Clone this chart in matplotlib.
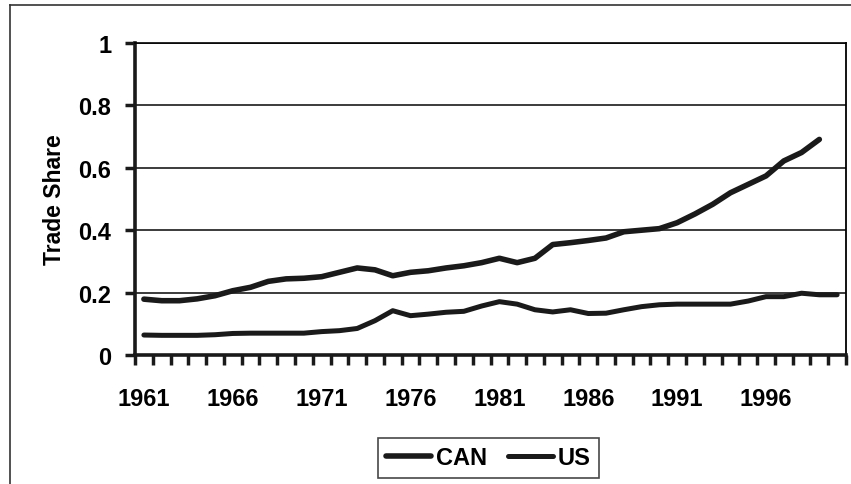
import numpy as np
import matplotlib
matplotlib.use("Agg")
from matplotlib import pyplot as plt
from matplotlib.lines import Line2D

# Podatki (odčitani s slike)
years = list(range(1961, 2001))
can = [0.179, 0.174, 0.174, 0.180, 0.190, 0.206, 0.217, 0.236, 0.244, 0.246,
       0.251, 0.265, 0.279, 0.273, 0.254, 0.265, 0.270, 0.279, 0.286, 0.296,
       0.310, 0.296, 0.310, 0.354, 0.360, 0.367, 0.375, 0.395, 0.400, 0.405,
       0.424, 0.452, 0.483, 0.520, 0.547, 0.574, 0.622, 0.649, 0.691, np.nan]
us = [0.064, 0.063, 0.063, 0.063, 0.065, 0.069, 0.070, 0.070, 0.070, 0.070,
      0.075, 0.078, 0.085, 0.110, 0.142, 0.126, 0.131, 0.137, 0.140, 0.157,
      0.171, 0.163, 0.145, 0.138, 0.145, 0.133, 0.134, 0.145, 0.155, 0.161,
      0.163, 0.163, 0.163, 0.163, 0.173, 0.187, 0.187, 0.198, 0.193, 0.193]
yticks = [0, 0.2, 0.4, 0.6, 0.8, 1]
ytick_labels = ['0', '0.2', '0.4', '0.6', '0.8', '1']
label_years = [1961, 1966, 1971, 1976, 1981, 1986, 1991, 1996]

plt.rcParams['font.family'] = ['Liberation Sans', 'DejaVu Sans']
plt.rcParams['font.weight'] = 'bold'

fig = plt.figure(figsize=(8.51, 4.85), dpi=100)
ax = fig.add_axes([135/851, 1-356/485, (846-135)/851, (356-44)/485])

x = np.arange(len(years))
ax.plot(x, can, color='#1a1a1a', lw=4.0, solid_capstyle='round', label='CAN')
ax.plot(x, us, color='#1a1a1a', lw=3.6, solid_capstyle='round', label='US')

ax.set_xlim(-0.5, len(years) - 0.5)
ax.set_ylim(0, 1)

# kljukice na x osi med kategorijami, oznake vsakih 5 let
ax.set_xticks(np.arange(len(years) + 1) - 0.5)
ax.set_xticklabels([])
ax.tick_params(axis='x', which='major', direction='out', length=7, width=2.5, color='#1a1a1a')
ax.set_xticks([years.index(y) for y in label_years], minor=True)
ax.set_xticklabels([str(y) for y in label_years], minor=True, fontsize=17, fontweight='bold')
ax.tick_params(axis='x', which='minor', length=0, pad=23)

ax.set_yticks(yticks)
ax.set_yticklabels(ytick_labels, fontsize=17, fontweight='bold')
ax.tick_params(axis='y', direction='out', length=7, width=2.5, pad=10, color='#1a1a1a')

ax.set_ylabel('Trade Share', fontsize=16.5, fontweight='bold', labelpad=9)

ax.grid(axis='y', color='#1a1a1a', lw=1.2)
ax.set_axisbelow(True)

for s in ['left', 'bottom']:
    ax.spines[s].set_linewidth(2.6)
    ax.spines[s].set_color('#1a1a1a')
ax.spines['right'].set_linewidth(1.3)
ax.spines['top'].set_linewidth(1.2)

leg = ax.legend(loc='center', bbox_to_anchor=(488.5/851, 1-459/485),
                bbox_transform=fig.transFigure, ncol=2, frameon=True, fancybox=False,
                edgecolor='#1a1a1a', prop={'size': 17, 'weight': 'bold'},
                handlelength=1.9, handletextpad=0.2, columnspacing=0.9,
                borderpad=0.35, borderaxespad=0)
leg.get_frame().set_linewidth(1.2)

# okvir okrog grafa (zgoraj in levo)
fig.add_artist(Line2D([10/851, 1], [1-6/485, 1-6/485], color='#333333', lw=1.2))
fig.add_artist(Line2D([10/851, 10/851], [1-6/485, 0], color='#333333', lw=1.2))

fig.savefig('out.png', dpi=100)
